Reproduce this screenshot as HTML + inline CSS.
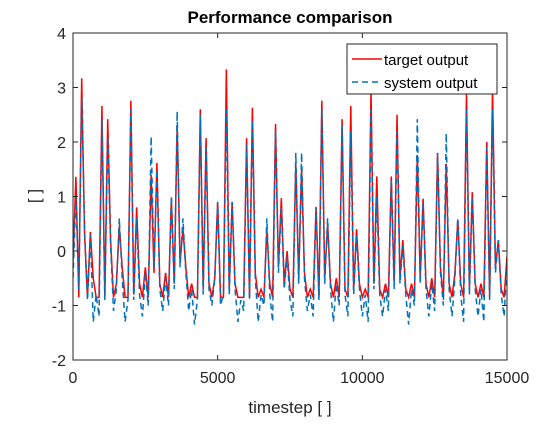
<!DOCTYPE html>
<html><head><meta charset="utf-8"><style>
body{margin:0;background:#fff;}
svg{font-family:"Liberation Sans",Arial,sans-serif;}
</style></head><body>
<svg id="chart" width="560" height="420" xmlns="http://www.w3.org/2000/svg">
<rect width="560" height="420" fill="#fff"/>
<text x="290" y="23" text-anchor="middle" font-size="17" font-weight="bold" fill="#000">Performance comparison</text>
<g id="plot"></g>
<text x="290" y="413" text-anchor="middle" font-size="17" fill="#262626">timestep [ ]</text>
<text transform="translate(40,196) rotate(-90)" text-anchor="middle" font-size="17" fill="#262626">[ ]</text>
</svg>
<script>
const xTicks=[0,5000,10000,15000];
const yTicks=[-2,-1,0,1,2,3,4];
const step=100;
const targetOutput=[-0.2,1.36,-0.85,3.17,0.3,-0.85,0.35,-0.5,-0.85,-0.85,2.66,-0.85,2.42,0.2,-0.85,-0.6,0.45,-0.3,-0.85,-0.85,2.76,-0.8,0.8,-0.6,-0.85,-0.3,-0.85,1.4,-0.4,1.62,-0.6,-0.85,-0.4,-0.85,0.97,-0.6,2.3,-0.2,0.4,-0.3,-0.85,-0.6,-0.85,-0.85,2.6,-0.7,2.07,-0.6,-0.85,-0.5,0.9,-0.85,-0.85,3.33,-0.7,0.9,-0.6,-0.85,-0.85,-0.85,2.07,-0.85,2.63,-0.4,-0.85,-0.7,-0.85,0.4,-0.6,-0.85,2.33,-0.3,0.97,-0.6,0.0,-0.7,-0.85,1.6,-0.5,1.5,-0.4,-0.85,-0.7,-0.85,0.81,-0.85,2.76,-0.5,0.5,-0.6,-0.85,-0.5,-0.85,2.42,-0.7,-0.85,2.66,-0.7,0.4,-0.6,-0.85,-0.7,-0.85,2.95,-0.6,1.37,-0.7,-0.85,-0.6,-0.85,1.37,-0.6,2.5,-0.5,0.2,-0.7,-0.85,-0.6,-0.85,1.76,-0.5,0.96,-0.6,-0.85,-0.5,-0.85,1.8,-0.3,-0.85,1.6,-0.6,-0.85,-0.4,0.58,-0.6,-0.85,2.9,-0.7,1.08,-0.6,-0.85,-0.6,-0.85,2.0,-0.85,3.0,-0.3,0.2,-0.7,-0.85,-0.1];
const systemOutput=[-0.5,1.0,-0.7,2.8,0.4,-0.9,0.3,-1.3,-0.8,-1.2,2.4,-0.9,2.1,0.1,-1.1,-0.7,0.6,-0.5,-1.3,-0.9,2.6,-0.9,0.6,-0.8,-1.2,-0.4,-1.0,2.1,-0.3,1.5,-0.7,-1.1,-0.5,-1.0,1.0,-0.7,2.56,-0.3,0.6,-0.4,-1.1,-0.7,-1.35,-0.9,2.5,-0.8,1.9,-0.7,-1.0,-0.5,0.9,-1.0,-0.8,2.6,-0.8,0.9,-0.7,-1.3,-0.9,-1.1,1.95,-0.9,2.4,-0.5,-1.3,-0.8,-1.0,0.6,-0.8,-1.3,2.2,-0.4,0.8,-0.7,-0.1,-0.9,-1.2,1.8,-0.6,1.8,-0.5,-1.1,-0.8,-1.2,0.8,-0.9,2.6,-0.6,0.6,-0.7,-1.3,-0.6,-1.0,2.3,-0.8,-1.2,2.2,-0.8,0.3,-0.7,-1.2,-0.8,-1.3,2.6,-0.7,1.0,-0.8,-1.2,-0.7,-1.1,1.3,-0.7,2.2,-0.6,0.1,-0.8,-1.35,-0.7,-1.0,2.42,-0.6,0.9,-0.7,-1.2,-0.6,-1.1,1.8,-0.4,-1.0,2.16,-0.7,-1.2,-0.5,0.6,-0.8,-1.3,2.6,-0.8,1.0,-0.7,-1.2,-0.7,-1.3,1.9,-0.9,2.6,-0.4,0.2,-0.8,-1.2,-0.2];

const L=73,R=507,T=33,B=360;
const sx=v=>L+(v-0)/(15000-0)*(R-L);
const sy=v=>B-(v-(-2))/(4-(-2))*(B-T);
const NS='http://www.w3.org/2000/svg';
const plot=document.getElementById('plot');
function mk(tag,attrs,parent){const e=document.createElementNS(NS,tag);for(const k in attrs)e.setAttribute(k,attrs[k]);(parent||plot).appendChild(e);return e;}

const clip=mk('clipPath',{id:'clipArea'});
mk('rect',{x:L,y:T,width:R-L,height:B-T},clip);

function lineFor(arr){return arr.map((v,i)=>(i?'L':'M')+sx(i*step).toFixed(2)+','+sy(v).toFixed(2)).join('');}
const tLine=mk('path',{d:lineFor(targetOutput),fill:'none',stroke:'#ff0000','stroke-width':1.5,'clip-path':'url(#clipArea)'});


const sLine=mk('path',{d:lineFor(systemOutput),fill:'none',stroke:'#0072bd','stroke-width':1.5,'stroke-dasharray':'6,4','clip-path':'url(#clipArea)'});



const frame=mk('rect',{x:L,y:T,width:R-L,height:B-T,fill:'none',stroke:'#262626','stroke-width':1});



xTicks.forEach(v=>{
  const x=sx(v);
  mk('line',{x1:x,x2:x,y1:B,y2:B-5,stroke:'#262626'});
  mk('line',{x1:x,x2:x,y1:T,y2:T+5,stroke:'#262626'});
  const t=mk('text',{x:x,y:B+23,'text-anchor':'middle','font-size':16,fill:'#262626'});
  t.textContent=v;
  
  
});
yTicks.forEach(v=>{
  const y=sy(v);
  mk('line',{x1:L,x2:L+5,y1:y,y2:y,stroke:'#262626'});
  mk('line',{x1:R,x2:R-5,y1:y,y2:y,stroke:'#262626'});
  const t=mk('text',{x:L-7,y:y+6,'text-anchor':'end','font-size':16,fill:'#262626'});
  t.textContent=v;
  
  
});

const lg=mk('g',{});


mk('rect',{x:347,y:44,width:150,height:50,fill:'#fff',stroke:'#262626','stroke-width':1},lg);
mk('line',{x1:352,x2:382,y1:59,y2:59,stroke:'#ff0000','stroke-width':1.5},lg);
mk('line',{x1:352,x2:382,y1:82,y2:82,stroke:'#0072bd','stroke-width':1.5,'stroke-dasharray':'6,4'},lg);
const l1=mk('text',{x:384,y:65,'font-size':15,fill:'#000'},lg);l1.textContent='target output';


const l2=mk('text',{x:384,y:88,'font-size':15,fill:'#000'},lg);l2.textContent='system output';


</script>
</body></html>
